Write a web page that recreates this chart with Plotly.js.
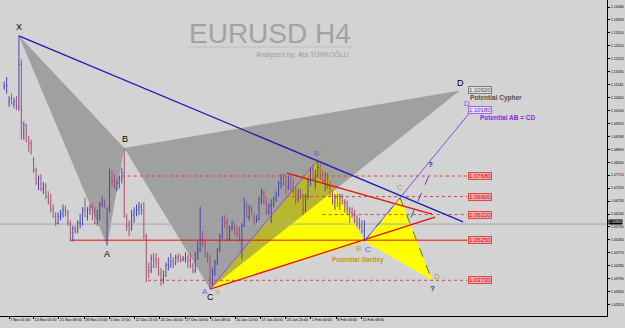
<!DOCTYPE html>
<html><head><meta charset="utf-8">
<script src="https://cdn.plot.ly/plotly-3.0.1.min.js"></script>
<style>html,body{margin:0;padding:0;background:#d3d3d3}#chart{width:625px;height:328px}</style>
</head><body><div id="chart"></div>
<script>
// ---- price data: half-day bars, 4 Nov 2016 .. 15 Feb 2017 (EURUSD) ----
const open = [1.1105,1.1110,1.1050,1.1060,1.1040,1.1050,1.1030,1.1190,1.0925,1.0960,1.0900,1.0890,1.0830,1.0790,1.0740,1.0760,1.0720,1.0730,1.0690,1.0670,1.0640,1.0615,1.0590,1.0615,1.0625,1.0640,1.0630,1.0590,1.0555,1.0570,1.0560,1.0590,1.0590,1.0640,1.0615,1.0640,1.0650,1.0620,1.0590,1.0620,1.0660,1.0670,1.0590,1.0640,1.0760,1.0750,1.0720,1.0740,1.0760,1.0780,1.0615,1.0580,1.0570,1.0620,1.0630,1.0640,1.0650,1.0635,1.0540,1.0420,1.0410,1.0455,1.0450,1.0440,1.0400,1.0375,1.0390,1.0430,1.0430,1.0445,1.0435,1.0460,1.0455,1.0450,1.0455,1.0460,1.0450,1.0430,1.0410,1.0470,1.0490,1.0530,1.0510,1.0470,1.0460,1.0365,1.0405,1.0440,1.0490,1.0540,1.0600,1.0590,1.0530,1.0570,1.0575,1.0560,1.0555,1.0525,1.0580,1.0650,1.0615,1.0645,1.0610,1.0600,1.0605,1.0680,1.0705,1.0670,1.0630,1.0655,1.0660,1.0680,1.0700,1.0740,1.0760,1.0745,1.0725,1.0750,1.0720,1.0715,1.0680,1.0705,1.0690,1.0640,1.0690,1.0750,1.0795,1.0760,1.0770,1.0800,1.0760,1.0750,1.0770,1.0730,1.0695,1.0670,1.0685,1.0665,1.0690,1.0670,1.0665,1.0640,1.0630,1.0620,1.0600,1.0590,1.0575,1.0560];
const high = [1.1125,1.1143,1.1070,1.1080,1.1065,1.1070,1.1299,1.1210,1.0975,1.0965,1.0920,1.0905,1.0840,1.0800,1.0770,1.0775,1.0745,1.0740,1.0710,1.0700,1.0660,1.0630,1.0630,1.0640,1.0660,1.0655,1.0640,1.0600,1.0580,1.0580,1.0600,1.0625,1.0650,1.0685,1.0650,1.0660,1.0665,1.0650,1.0640,1.0670,1.0690,1.0680,1.0650,1.0796,1.0790,1.0775,1.0755,1.0770,1.0800,1.0874,1.0625,1.0600,1.0640,1.0650,1.0660,1.0670,1.0665,1.0670,1.0550,1.0440,1.0470,1.0475,1.0475,1.0460,1.0420,1.0410,1.0440,1.0460,1.0475,1.0460,1.0470,1.0475,1.0470,1.0465,1.0480,1.0470,1.0475,1.0440,1.0480,1.0520,1.0652,1.0560,1.0530,1.0480,1.0470,1.0420,1.0450,1.0495,1.0550,1.0615,1.0620,1.0610,1.0580,1.0600,1.0590,1.0580,1.0575,1.0590,1.0685,1.0670,1.0660,1.0655,1.0625,1.0620,1.0690,1.0720,1.0715,1.0690,1.0665,1.0680,1.0690,1.0710,1.0750,1.0775,1.0775,1.0770,1.0770,1.0765,1.0760,1.0730,1.0720,1.0720,1.0700,1.0700,1.0760,1.0800,1.0810,1.0790,1.0829,1.0815,1.0790,1.0780,1.0780,1.0750,1.0715,1.0700,1.0700,1.0700,1.0700,1.0680,1.0675,1.0650,1.0650,1.0640,1.0620,1.0610,1.0600,1.0600];
const low = [1.1095,1.1080,1.1030,1.1040,1.1025,1.1018,1.1015,1.0906,1.0905,1.0895,1.0860,1.0850,1.0780,1.0735,1.0715,1.0710,1.0700,1.0680,1.0660,1.0630,1.0610,1.0580,1.0585,1.0600,1.0610,1.0615,1.0580,1.0520,1.0520,1.0550,1.0550,1.0570,1.0580,1.0615,1.0600,1.0620,1.0600,1.0585,1.0580,1.0600,1.0650,1.0645,1.0505,1.0630,1.0730,1.0720,1.0710,1.0720,1.0740,1.0610,1.0560,1.0540,1.0560,1.0590,1.0615,1.0620,1.0620,1.0530,1.0366,1.0380,1.0400,1.0420,1.0420,1.0390,1.0352,1.0360,1.0385,1.0410,1.0420,1.0420,1.0430,1.0440,1.0440,1.0445,1.0440,1.0420,1.0420,1.0400,1.0400,1.0450,1.0480,1.0500,1.0460,1.0440,1.0340,1.0350,1.0390,1.0430,1.0480,1.0530,1.0570,1.0520,1.0525,1.0560,1.0545,1.0535,1.0520,1.0452,1.0575,1.0610,1.0600,1.0620,1.0580,1.0590,1.0600,1.0660,1.0660,1.0620,1.0620,1.0590,1.0650,1.0670,1.0690,1.0720,1.0730,1.0700,1.0715,1.0710,1.0700,1.0660,1.0670,1.0680,1.0620,1.0630,1.0680,1.0730,1.0750,1.0720,1.0760,1.0750,1.0740,1.0710,1.0720,1.0690,1.0660,1.0640,1.0650,1.0640,1.0660,1.0630,1.0620,1.0590,1.0610,1.0590,1.0575,1.0565,1.0550,1.0521];
const close = [1.1110,1.1110,1.1060,1.1040,1.1050,1.1030,1.1190,1.0925,1.0960,1.0900,1.0890,1.0855,1.0790,1.0740,1.0760,1.0720,1.0730,1.0690,1.0670,1.0640,1.0615,1.0590,1.0615,1.0625,1.0640,1.0630,1.0590,1.0555,1.0570,1.0560,1.0590,1.0590,1.0640,1.0615,1.0640,1.0650,1.0620,1.0590,1.0620,1.0660,1.0670,1.0660,1.0640,1.0760,1.0750,1.0720,1.0740,1.0760,1.0780,1.0615,1.0580,1.0560,1.0620,1.0630,1.0640,1.0650,1.0635,1.0540,1.0420,1.0410,1.0455,1.0450,1.0440,1.0400,1.0375,1.0390,1.0430,1.0430,1.0445,1.0435,1.0460,1.0455,1.0450,1.0455,1.0460,1.0450,1.0430,1.0410,1.0470,1.0490,1.0530,1.0520,1.0470,1.0460,1.0365,1.0405,1.0440,1.0490,1.0540,1.0600,1.0590,1.0530,1.0570,1.0575,1.0560,1.0555,1.0525,1.0580,1.0650,1.0615,1.0645,1.0640,1.0600,1.0605,1.0680,1.0705,1.0670,1.0630,1.0655,1.0660,1.0680,1.0700,1.0740,1.0760,1.0745,1.0725,1.0750,1.0720,1.0715,1.0680,1.0705,1.0695,1.0640,1.0690,1.0750,1.0795,1.0760,1.0770,1.0800,1.0760,1.0750,1.0780,1.0730,1.0695,1.0670,1.0685,1.0665,1.0690,1.0670,1.0665,1.0640,1.0640,1.0620,1.0600,1.0590,1.0575,1.0560,1.0586];

// x-axis (bar index) date labels
const xTickPos = [2.0,12.0,22.3,32.6,42.9,53.2,63.5,73.8,84.0,94.3,104.6,114.9,125.2,135.5,145.8];
const xTickText = ["7 Nov 01:00","14 Nov 05:00","21 Nov 09:00","28 Nov 13:00","5 Dec 17:00","12 Dec 21:00","20 Dec 00:00","27 Dec 04:00","3 Jan 08:00","10 Jan 12:00","17 Jan 16:00","24 Jan 20:00","1 Feb 00:00","8 Feb 04:00","15 Feb 08:00"];
// price axis labels
const yTickVals = [1.1408,1.1359,1.1310,1.1261,1.1212,1.1163,1.1114,1.1065,1.1016,1.0967,1.0918,1.0869,1.0820,1.0771,1.0722,1.0673,1.0624,1.0575,1.0526,1.0477,1.0428,1.0379,1.0330,1.0281,1.0232];
const yTickText = ["1.14080","1.13590","1.13100","1.12610","1.12120","1.11630","1.11140","1.10650","1.10160","1.09670","1.09180","1.08690","1.08200","1.07710","1.07220","1.06730","1.06240","1.05750","1.05260","1.04770","1.04280","1.03790","1.03300","1.02810","1.02320"];

// harmonic pattern points (bar index, price)
const cypherLbl = ["X","A","B","C","D"];
const cypherX = [6,42,49,84,186.0];
const cypherY = [1.1299,1.0505,1.0874,1.0340,1.1092];
const gartLbl = ["X","A","B","C","D"];
const gartX = [84,128,147,161.6,174.6];
const gartY = [1.0340,1.0829,1.0521,1.0685,1.0373];
const abcdLbl = ["A","B","C","D"];
const abcdX = [84,128,147,190.9];
const abcdY = [1.0340,1.0829,1.0521,1.1018];
// trend lines
const blueX = [6,187.3], blueY = [1.1299,1.0594];
const redTX = [115.4,174.6], redTY = [1.0779,1.0624];
const redXBX = [84,175.8], redXBY = [1.0340,1.0612];
// price levels
const levelVal = [1.1092,1.1018,1.0768,1.0690,1.0622,1.0525,1.0373];
const levelTxt = ["1.10920","1.10180","1.07680","1.06900","1.06220","1.05250","1.03730"];
const levelStart = [null,null,48,115,130,27,58.7];
const levelKind = ["gray","purple","red","red","red","red","red"];
const bidPrice = 1.0586;

const idx = open.map((_, i) => i);
const X0 = -1.714, X1 = 246.04;
const boxX = 194.2, lineEnd = 189;

const traces = [{
  type: 'ohlc', x: idx, open: open, high: high, low: low, close: close,
  increasing: {line: {color: '#4646b4', width: 1}},
  decreasing: {line: {color: '#a4506e', width: 1}},
  tickwidth: 0.3, hoverinfo: 'skip', showlegend: false
}];

const tri = (xs, ys, ids) => 'M ' + ids.map(i => xs[i] + ',' + ys[i]).join(' L ') + ' Z';
const shapes = [];
shapes.push({type:'path', path: tri(gartX,gartY,[0,1,2]), fillcolor:'#ffff00', line:{width:0}, layer:'below'});
shapes.push({type:'path', path: tri(gartX,gartY,[2,3,4]), fillcolor:'#ffff00', line:{width:0}, layer:'below'});
shapes.push({type:'path', path: tri(cypherX,cypherY,[0,1,2]), fillcolor:'rgba(100,100,100,0.46)', line:{width:0}, layer:'below'});
shapes.push({type:'path', path: tri(cypherX,cypherY,[2,3,4]), fillcolor:'rgba(100,100,100,0.46)', line:{width:0}, layer:'below'});
shapes.push({type:'line', x0:X0, x1:X1, y0:bidPrice, y1:bidPrice, line:{color:'#a8a8a8', width:1}, layer:'below'});
levelVal.forEach((v, i) => {
  if (levelStart[i] === null) return;
  const solid = (v === 1.0525);
  shapes.push({type:'line', x0:levelStart[i], x1:lineEnd, y0:v, y1:v,
    line:{color: solid ? '#e01010' : '#d04848', width:1, dash: solid ? 'solid' : 'dot'}});
});
shapes.push({type:'line', x0:blueX[0], y0:blueY[0], x1:blueX[1], y1:blueY[1], line:{color:'#1a1ab4', width:1.3}});
shapes.push({type:'line', x0:redTX[0], y0:redTY[0], x1:redTX[1], y1:redTY[1], line:{color:'#e01010', width:1.3}});
shapes.push({type:'line', x0:redXBX[0], y0:redXBY[0], x1:redXBX[1], y1:redXBY[1], line:{color:'#e01010', width:1.3}});
shapes.push({type:'line', x0:abcdX[0], y0:abcdY[0], x1:abcdX[1], y1:abcdY[1], line:{color:'#8a4ae6', width:1}});
shapes.push({type:'line', x0:abcdX[2], y0:abcdY[2], x1:abcdX[3], y1:abcdY[3], line:{color:'#8a4ae6', width:1}});
shapes.push({type:'line', x0:gartX[3], y0:gartY[3], x1:gartX[4], y1:gartY[4], line:{color:'#606080', width:1, dash:'dash'}});
shapes.push({type:'line', x0:gartX[2], y0:gartY[2], x1:gartX[3], y1:gartY[3], line:{color:'#4050c0', width:1, dash:'dash'}});
shapes.push({type:'line', x0:166, y0:1.0610, x1:174.2, y1:1.0788, line:{color:'#4050c0', width:1, dash:'dash'}});
shapes.push({type:'line', xref:'paper', yref:'paper', x0:187/607, x1:352/607, y0:1-47/316, y1:1-47/316, line:{color:'#bdbdbd', width:1}});

const ann = [];
const F = 'Liberation Sans, Arial, sans-serif';
ann.push({xref:'paper', yref:'paper', x:269.5/607, y:1-33/316, text:'EURUSD H4', showarrow:false, font:{family:F, size:28, color:'#a2a2a2'}, xanchor:'center', yanchor:'middle'});
ann.push({xref:'paper', yref:'paper', x:351/607, y:1-54/316, text:'Analyzed by: Ata TÜRKOĞLU', showarrow:false, font:{family:F, size:7, color:'#9c9c9c'}, xanchor:'right', yanchor:'middle'});
const cyShift = [[0,9],[0,-9],[1,9],[0,-8],[1,7]];
cypherLbl.forEach((t, i) => ann.push({x:cypherX[i], y:cypherY[i], text:t, showarrow:false, xshift:cyShift[i][0], yshift:cyShift[i][1], font:{family:F, size:9, color:'#000'}}));
const gaShift = [[8,-3],[6,9],[-6,-7],[0,10],[5,4]];
gartLbl.forEach((t, i) => ann.push({x:gartX[i], y:gartY[i], text:t, showarrow:false, xshift:gaShift[i][0], yshift:gaShift[i][1], font:{family:F, size:8, color:'#b4a040'}}));
const abShift = [[-5,-2],[-1,6],[4,-8],[-5,6]];
abcdLbl.forEach((t, i) => ann.push({x:abcdX[i], y:abcdY[i], text:t, showarrow:false, xshift:abShift[i][0], yshift:abShift[i][1], font:{family:F, size:8, color:'#8a4ae6'}}));
ann.push({x:174.2, y:1.0788, text:'<b>?</b>', showarrow:false, yshift:6, font:{family:F, size:8, color:'#2030a0'}});
ann.push({x:gartX[4], y:gartY[4], text:'<b>?</b>', showarrow:false, yshift:-8, xshift:1, font:{family:F, size:8, color:'#2030a0'}});
ann.push({x:189.3, y:1.1063, text:'<b>Potential Cypher</b>', showarrow:false, xanchor:'left', font:{family:F, size:6.5, color:'#505050'}});
ann.push({x:193.4, y:1.0991, text:'<b>Potential AB = CD</b>', showarrow:false, xanchor:'left', font:{family:F, size:6.5, color:'#7a30d8'}});
ann.push({x:133, y:1.0450, text:'<b>Potential Gartley</b>', showarrow:false, xanchor:'left', font:{family:F, size:6.5, color:'#c09430'}});
const boxStyle = {gray:['#dedede','#7a7a7a','#555555'], purple:['#e6dcf6','#9a6ae0','#7a30d8'], red:['#f2aaaa','#e04848','#b01818']};
levelVal.forEach((v, i) => {
  const s = boxStyle[levelKind[i]];
  ann.push({x:boxX, y:v, text:levelTxt[i], showarrow:false, bgcolor:s[0], bordercolor:s[1], borderwidth:1, borderpad:0, font:{family:F, size:6, color:s[2]}});
});
ann.push({xref:'paper', x:1.002, y:bidPrice, text:bidPrice.toFixed(5), showarrow:false, xanchor:'left', yshift:2, bgcolor:'#000', font:{family:F, size:3.6, color:'#fff'}, borderpad:0});

const layout = {
  width:625, height:328,
  margin:{l:0, r:18, t:0, b:12, pad:0},
  paper_bgcolor:'#d3d3d3', plot_bgcolor:'#d3d3d3',
  showlegend:false,
  xaxis:{range:[X0, X1], rangeslider:{visible:false}, showgrid:false, zeroline:false,
    showline:true, linecolor:'#000', linewidth:1, ticks:'outside', ticklen:2, tickcolor:'#000',
    tickvals:xTickPos, ticktext:xTickText, ticklabelposition:'outside right', tickangle:0,
    tickfont:{family:F, size:3.7, color:'#000'}, fixedrange:true, automargin:false},
  yaxis:{range:[1.02378, 1.14345], side:'right', showgrid:false, zeroline:false,
    showline:true, linecolor:'#000', linewidth:1, ticks:'outside', ticklen:2, tickcolor:'#000',
    tickvals:yTickVals, ticktext:yTickText, tickfont:{family:F, size:3.6, color:'#000'}, fixedrange:true, automargin:false},
  shapes:shapes, annotations:ann
};
Plotly.newPlot('chart', traces, layout, {staticPlot:true, displayModeBar:false});
</script></body></html>
